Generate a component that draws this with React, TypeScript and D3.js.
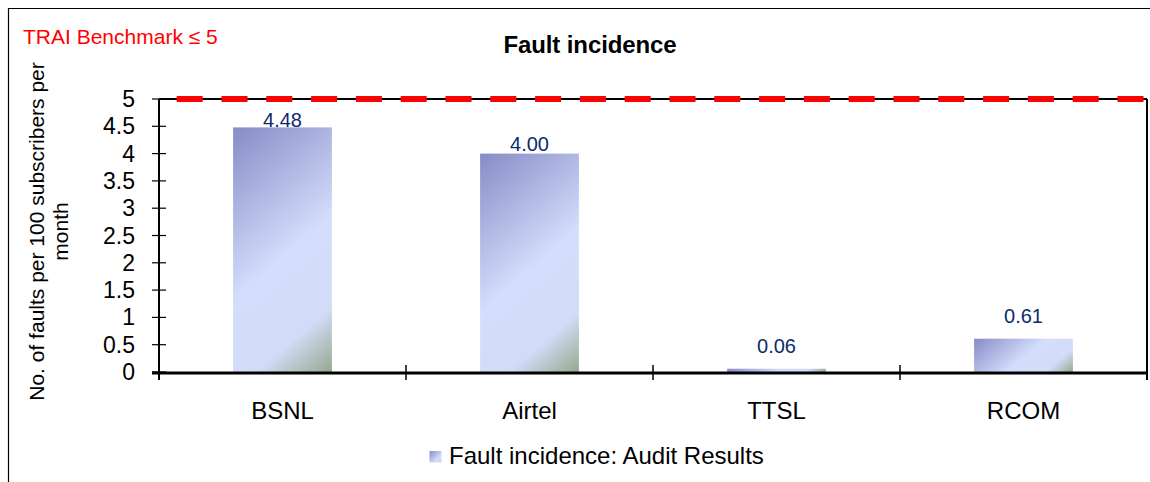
import React from "react";
import * as d3 from "d3";

const categories = ["BSNL", "Airtel", "TTSL", "RCOM"];
const values = [4.48, 4.0, 0.06, 0.61];
const valueLabels = ["4.48", "4.00", "0.06", "0.61"];
const yTicks = [0, 0.5, 1, 1.5, 2, 2.5, 3, 3.5, 4, 4.5, 5];
const benchmark = 5;
const title = "Fault incidence";
const benchmarkText = "TRAI Benchmark \u2264 5";
const yTitleLines = ["No. of faults per 100 subscribers per", "month"];
const legendText = "Fault incidence: Audit Results";

const W = 1150;
const H = 482;
const plot = { left: 159, right: 1147, top: 99, bottom: 372 };
const FONT = "'Liberation Sans', Arial, Helvetica, sans-serif";

export default function App() {
  const x = d3
    .scaleBand<string>()
    .domain(categories)
    .range([plot.left, plot.right])
    .paddingInner(0)
    .paddingOuter(0);
  const y = d3.scaleLinear().domain([0, 5]).range([plot.bottom, plot.top]);
  const bw = x.bandwidth() * 0.4;
  const ux = 0.65;
  const uy = 0.76;
  const boundaries = categories.map((c) => x(c) as number).concat([plot.right]);

  const period = 44.8;
  const dash = 26;
  const firstDash = 17.7;

  return (
    <svg
      width={W}
      height={H}
      style={{ position: "absolute", left: 0, top: 0, display: "block" }}
      fontFamily={FONT}
    >
      <defs>
        {values.map((v, i) => {
          const bx = (x(categories[i]) as number) + (x.bandwidth() - bw) / 2;
          const by = y(v);
          const h = y(0) - by;
          const L = bw * ux + h * uy;
          return (
            <linearGradient
              key={i}
              id={`g${i}`}
              gradientUnits="userSpaceOnUse"
              x1={bx}
              y1={by}
              x2={bx + (L * ux) / (ux * ux + uy * uy)}
              y2={by + (L * uy) / (ux * ux + uy * uy)}
            >
              <stop offset="0" stopColor="#878cc6" />
              <stop offset="0.53" stopColor="#d4defc" />
              <stop offset="0.8" stopColor="#d2dcf8" />
              <stop offset="1" stopColor="#97a88e" />
            </linearGradient>
          );
        })}
        <linearGradient id="leg" x1="0" y1="0" x2="1" y2="1">
          <stop offset="0" stopColor="#878cc6" />
          <stop offset="0.7" stopColor="#d4defc" />
          <stop offset="1" stopColor="#c8d2ee" />
        </linearGradient>
      </defs>

      <rect x={0} y={0} width={W} height={H} fill="#fff" />
      {/* outer chart border */}
      <path d={`M8.5,${H} V8.5 H${W}`} fill="none" stroke="#000" strokeWidth={1.2} />

      {/* benchmark text */}
      <text x={23} y={43.5} fontSize={21} fill="#ff0000">
        {benchmarkText}
      </text>

      {/* title */}
      <text
        x={590}
        y={53}
        fontSize={24}
        fontWeight="bold"
        textAnchor="middle"
        letterSpacing={-0.1}
      >
        {title}
      </text>

      {/* y axis title */}
      {yTitleLines.map((t, i) => (
        <text
          key={i}
          transform={`translate(${44 + i * 24},231.5) rotate(-90)`}
          fontSize={21}
          textAnchor="middle"
          fill="#000"
        >
          {t}
        </text>
      ))}

      {/* bars */}
      {values.map((v, i) => {
        const bx = (x(categories[i]) as number) + (x.bandwidth() - bw) / 2;
        return (
          <rect
            key={i}
            x={bx}
            y={y(v)}
            width={bw}
            height={y(0) - y(v)}
            fill={`url(#g${i})`}
          />
        );
      })}

      {/* data labels */}
      {values.map((v, i) => {
        const cx = (x(categories[i]) as number) + x.bandwidth() / 2;
        const dist = y(v) - y(benchmark);
        const off = Math.max(0, Math.min(16, (dist - 27) / 9));
        return (
          <text
            key={i}
            x={cx}
            y={y(v) - off}
            fontSize={20}
            textAnchor="middle"
            fill="#0d2a6c"
          >
            {valueLabels[i]}
          </text>
        );
      })}

      {/* plot border top & right */}
      <line x1={plot.left} x2={plot.right} y1={plot.top} y2={plot.top} stroke="#000" strokeWidth={2} />
      <line x1={plot.right} x2={plot.right} y1={plot.top} y2={plot.bottom + 8} stroke="#000" strokeWidth={2} />

      {/* benchmark dashed line */}
      <line
        x1={plot.left}
        x2={plot.right}
        y1={y(benchmark)}
        y2={y(benchmark)}
        stroke="#ff0000"
        strokeWidth={6}
        strokeDasharray={`${dash} ${period - dash}`}
        strokeDashoffset={period - firstDash}
      />

      {/* y axis */}
      <line x1={plot.left} x2={plot.left} y1={plot.top} y2={plot.bottom + 8} stroke="#000" strokeWidth={2} />
      {yTicks.map((t) => (
        <g key={t}>
          <line x1={152} x2={166} y1={y(t)} y2={y(t)} stroke="#000" strokeWidth={1.2} />
          <text x={135} y={y(t) + 8} fontSize={23} textAnchor="end" fill="#000">
            {d3.format("~g")(t)}
          </text>
        </g>
      ))}

      {/* x axis */}
      <line x1={plot.left - 7} x2={plot.right} y1={plot.bottom + 1} y2={plot.bottom + 1} stroke="#000" strokeWidth={3.2} />
      {boundaries.map((b, i) => (
        <line
          key={i}
          x1={b}
          x2={b}
          y1={i === 0 || i === boundaries.length - 1 ? plot.bottom : plot.bottom - 7}
          y2={plot.bottom + 8}
          stroke="#000"
          strokeWidth={1.5}
        />
      ))}
      {categories.map((c) => (
        <text
          key={c}
          x={(x(c) as number) + x.bandwidth() / 2}
          y={419}
          fontSize={24}
          textAnchor="middle"
          fill="#000"
        >
          {c}
        </text>
      ))}

      {/* legend */}
      <rect x={429.5} y={451} width={12} height={11.5} fill="url(#leg)" />
      <text x={449} y={463.5} fontSize={24} fill="#000">
        {legendText}
      </text>
    </svg>
  );
}
